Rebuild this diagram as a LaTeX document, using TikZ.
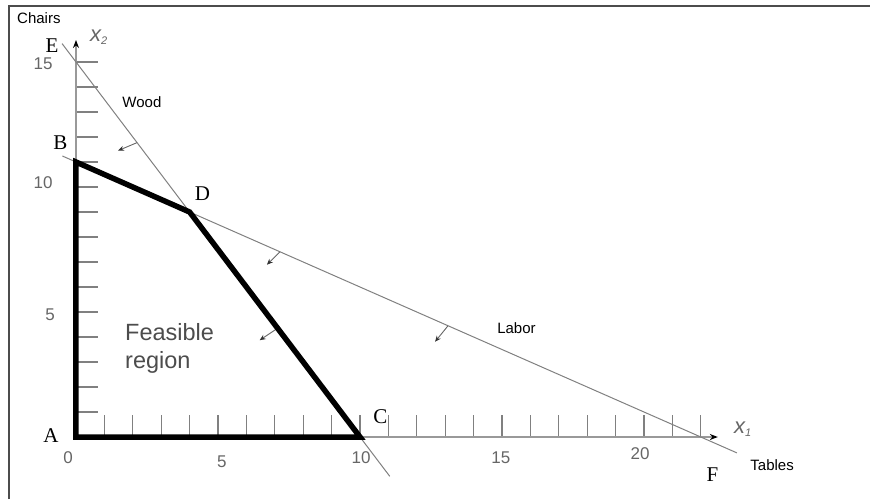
\documentclass[tikz,border=0pt]{standalone}
\usepackage{fontspec}
\setmainfont{Liberation Serif}
\newfontfamily\arialf{Liberation Sans}
\usetikzlibrary{arrows.meta}
\begin{document}
\begin{tikzpicture}[x=28.4pt,y=25pt,
  ptlabel/.style={inner sep=0pt,font=\fontsize{21}{24}\selectfont},
  lbl/.style={inner sep=0pt,font=\arialf\fontsize{15}{18}\selectfont},
  ticklabel/.style={inner sep=0pt,text=black!60,font=\arialf\fontsize{17}{20}\selectfont},
  axlabel/.style={inner sep=0pt,text=black!60,font=\arialf\itshape\fontsize{22}{24}\selectfont},
  axisline/.style={draw=black!40,line width=2pt,-{Stealth[length=8pt,width=6pt,color=black]}},
  tickmark/.style={draw=black!50,line width=1.3pt},
  constraint/.style={draw=black!50,line width=1pt},
  regionline/.style={draw=black,line width=5.5pt,line join=miter},
  dirarrow/.style={draw=black!60,line width=0.9pt,-{Stealth[length=6pt,width=5pt,color=black!80]}},
  frameline/.style={draw=black!70,line width=1.5pt}]
\useasboundingbox (-2.676,-2.48) rectangle (27.958,17.48);
% frame
\draw[frameline] (-2.359,-2.48) -- (-2.359,17.24) -- (27.958,17.24);
% key points
\coordinate (A) at (0,0);
\coordinate (B) at (0,11);
\coordinate (C) at (10,0);
\coordinate (D) at (4,9);
\coordinate (E) at (-0.49,15.735);
\coordinate (woodend) at (11.05,-1.575);
\coordinate (laborstart) at (-0.48,11.24);
\coordinate (laborend) at (23.27,-0.635);
\coordinate (xtip) at (22.6,0);
\coordinate (ytip) at (0,15.88);
% ticks
\foreach \k in {1,...,22} \draw[tickmark] (\k,0) -- (\k,0.88);
\foreach \k in {1,...,15} \draw[tickmark] (0,\k) -- (0.775,\k);
% axes
\draw[axisline] (A) -- (xtip);
\draw[axisline] (A) -- (ytip);
% constraint lines
\draw[constraint] (E) -- (woodend);
\draw[constraint] (laborstart) -- (laborend);
% direction arrows
\coordinate (w1) at (2.15,11.775);
\coordinate (w2) at (7.1,4.35);
\coordinate (l1) at (7.18,7.41);
\coordinate (l2) at (13.1,4.45);
\draw[dirarrow] (w1) -- ++(-0.669,-0.32);
\draw[dirarrow] (w2) -- ++(-0.634,-0.48);
\draw[dirarrow] (l1) -- ++(-0.458,-0.52);
\draw[dirarrow] (l2) -- ++(-0.458,-0.64);
% feasible region boundary
\draw[regionline] (B) -- (A) -- (C) -- (D) -- cycle;
% point labels
\node[ptlabel] (lA) at (-0.88,0.06) {A};
\node[ptlabel] (lB) at (-0.546,11.78) {B};
\node[ptlabel] (lC) at (10.72,0.82) {C};
\node[ptlabel] (lD) at (4.454,9.74) {D};
\node[ptlabel] (lE) at (-0.845,15.66) {E};
\node[ptlabel] (lF) at (22.41,-1.52) {F};
% text labels
\node[lbl,anchor=base west] (chairs) at (-2.077,16.52) {Chairs};
\node[lbl] (wood) at (2.32,13.4) {Wood};
\node[lbl] (labor) at (15.51,4.36) {Labor};
\node[lbl] (tables) at (24.51,-1.12) {Tables};
\node[inner sep=0pt,anchor=base west,text=black!70,font=\arialf\fontsize{23.5}{26}\selectfont] (feas) at (1.725,3.88) {Feasible};
\node[inner sep=0pt,anchor=base west,text=black!70,font=\arialf\fontsize{23.5}{26}\selectfont] (reg) at (1.725,2.76) {region};
% axis labels
\node[axlabel,anchor=base west] (x2) at (0.493,15.8) {x\raisebox{-3pt}{\fontsize{11}{11}\selectfont 2}};
\node[axlabel,anchor=base west] (x1) at (23.17,0.16) {x\raisebox{-3pt}{\fontsize{11}{11}\selectfont 1}};
% tick labels
\node[ticklabel] (tx0) at (-0.28,-0.84) {0};
\node[ticklabel] (tx5) at (5.14,-0.98) {5};
\node[ticklabel] (tx10) at (10.04,-0.84) {10};
\node[ticklabel] (tx15) at (14.96,-0.84) {15};
\node[ticklabel] (tx20) at (19.86,-0.68) {20};
\node[ticklabel] (ty15) at (-1.16,14.92) {15};
\node[ticklabel] (ty10) at (-1.16,10.16) {10};
\node[ticklabel] (ty5) at (-0.915,4.88) {5};
\end{tikzpicture}
\end{document}
